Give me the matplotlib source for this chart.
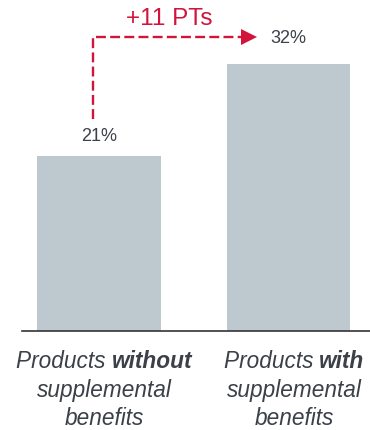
import matplotlib.pyplot as plt

plt.rcParams['font.family'] = ['Liberation Sans', 'DejaVu Sans']

# data
values = [21, 32]
value_labels = ['21%', '32%']
label_pre = ['Products ', 'Products ']
label_bold = ['without', 'with']
label_rest = ['supplemental', 'benefits']
delta_label = '+11 PTs'

W, H = 370, 431
fig = plt.figure(figsize=(W / 100, H / 100), dpi=100)
ax = fig.add_axes([22 / W, (H - 332) / H, 1 - 22 / W, 332 / H])

bar_color = '#bec9cf'
red = '#d2133b'
txt = '#3c4049'

x = [0, 1]
ax.bar(x, values, width=0.654, color=bar_color)
ax.set_xlim(-0.406, 1.430)
ax.set_ylim(0, 39.85)
for s in ['top', 'right', 'left']:
    ax.spines[s].set_visible(False)
ax.spines['bottom'].set_color('#333333')
ax.spines['bottom'].set_linewidth(1.2)
ax.set_xticks([])
ax.set_yticks([])

# value labels
ax.text(x[0], values[0] + 2.5, value_labels[0], ha='center', va='center', fontsize=13, color=txt)
ax.text(x[1], values[1] + 3.2, value_labels[1], ha='center', va='center', fontsize=13, color=txt)

# red dashed connector
y0 = values[0] + 4.4
y1 = values[1] + 3.3
xv = x[0] - 0.032
xh = x[1] - 0.245
ax.plot([xv, xv, xh], [y0, y1, y1], color=red, lw=1.7, dashes=(4.2, 1.8),
        solid_capstyle='butt', dash_capstyle='butt')
ax.plot([xh + 0.038], [y1], marker='>', color=red, markersize=11, markeredgewidth=0)
ax.text((xv + xh) / 2 + 0.01, y1 + 2.25, delta_label, ha='center', va='center',
        fontsize=17.5, color=red)

# category labels (mixed italic / bold italic)
fig.canvas.draw()
r = fig.canvas.get_renderer()
centers = [104, 294]
fs = 16.3
for i in range(2):
    t1 = fig.text(0, 0, label_pre[i], fontsize=fs, style='italic', color=txt)
    t2 = fig.text(0, 0, label_bold[i], fontsize=fs, style='italic', weight='bold', color=txt)
    w1 = t1.get_window_extent(r).width
    w2 = t2.get_window_extent(r).width
    left = centers[i] - (w1 + w2) / 2
    yb = 1 - 368 / H
    t1.set_position((left / W, yb))
    t2.set_position(((left + w1) / W, yb))
    t1.set_va('baseline')
    t2.set_va('baseline')
    for j, line in enumerate(label_rest):
        fig.text(centers[i] / W, 1 - (397 + 28 * j) / H, line, fontsize=fs,
                 style='italic', color=txt, ha='center', va='baseline')

fig.savefig('out.png', dpi=100)
